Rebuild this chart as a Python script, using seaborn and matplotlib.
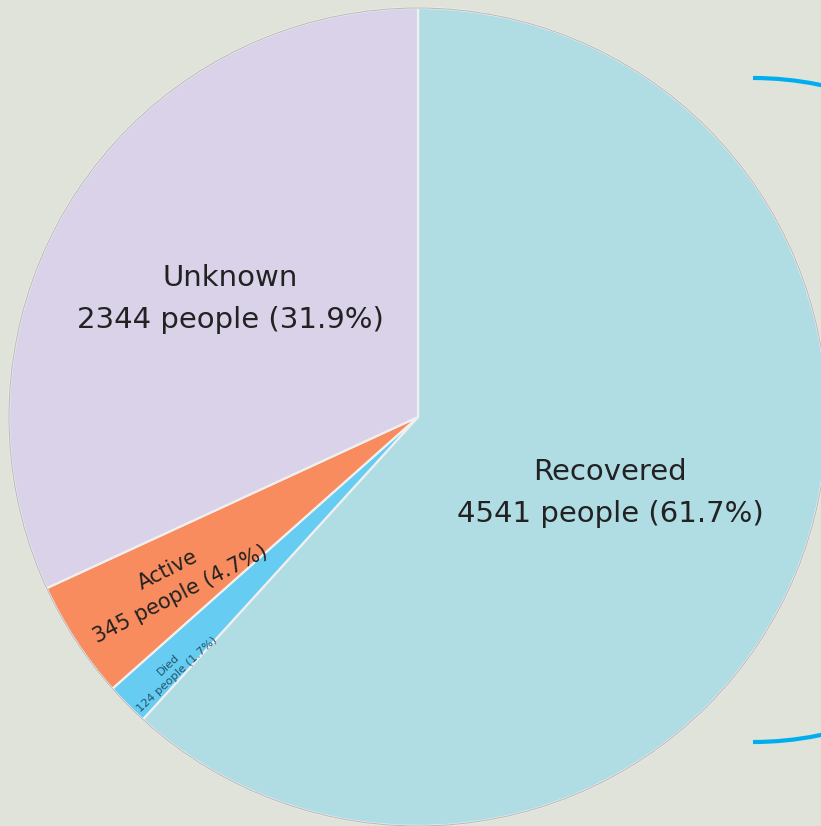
import matplotlib
matplotlib.use("Agg")
import matplotlib.pyplot as plt
import seaborn as sns
from matplotlib.patches import Arc, Circle

sns.set_theme(style="white")
plt.rcParams['font.family'] = ['DejaVu Sans']

# data (clockwise from 12 o'clock)
status = ["Recovered", "Died", "Active", "Unknown"]
people = [4541, 124, 345, 2344]
pct = [61.7, 1.7, 4.7, 31.9]
colors = ["#b0dce4", "#66ccf2", "#f98c5e", "#d9d2e9"]

bg = "#e0e3da"
fig = plt.figure(figsize=(8.21, 8.26), dpi=100, facecolor=bg)
ax = fig.add_axes([0, 0, 1, 1])
ax.set_facecolor(bg)

# pie in pixel coordinates (y up)
cx, cy, r = 418, 409, 409
ax.pie(people, colors=colors, startangle=90, counterclock=False,
       center=(cx, cy), radius=r, frame=True,
       wedgeprops=dict(edgecolor="#f0f0f0", linewidth=1.6))
ax.add_patch(Circle((cx, cy), r, fill=False, edgecolor="#bcbcbc", lw=0.8))

# bracket arc on the right
ax.add_patch(Arc((753, 416), 664, 664, theta1=-90, theta2=90,
                 color="#00aeef", lw=3.0))

txt = [f"{s}\n{n} people ({p}%)" for s, n, p in zip(status, people, pct)]
ax.text(610, 333, txt[0], ha="center", va="center", fontsize=21,
        color="#222222", linespacing=1.6)
ax.text(230, 527, txt[3], ha="center", va="center", fontsize=21,
        color="#222222", linespacing=1.6)
ax.text(174, 244, txt[2], ha="center", va="center", fontsize=15,
        color="#222222", rotation=27, linespacing=1.5, rotation_mode="anchor")
ax.text(173, 156, txt[1], ha="center", va="center", fontsize=8.2,
        color="#24546a", rotation=43, linespacing=1.4, rotation_mode="anchor")

ax.set_xlim(0, 821)
ax.set_ylim(0, 826)
ax.set_aspect("auto")
ax.axis("off")

fig.savefig("out.png", dpi=100, facecolor=bg)
